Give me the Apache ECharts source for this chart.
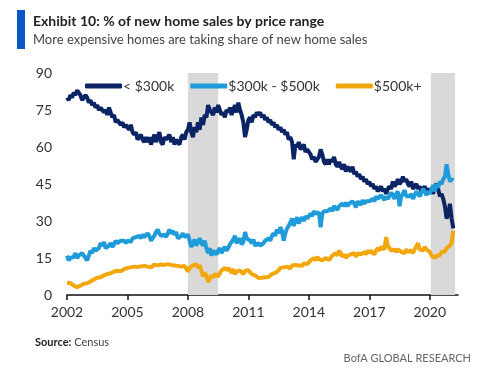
<!DOCTYPE html>
<html>
<head>
<meta charset="utf-8">
<script src="https://cdn.jsdelivr.net/npm/echarts@6/dist/echarts.min.js"></script>
<style>
  html, body { margin: 0; padding: 0; background: #fff; }
  #chart { width: 500px; height: 377px; }
</style>
</head>
<body>
<div id="chart"></div>
<script>
// Datos mensuales, enero 2002 a marzo 2021 (% de ventas de casas nuevas)
const startYear = 2002;
const seriesNames = ['< $300k', '$300k - $500k', '$500k+'];
const xTicks = [2002, 2005, 2008, 2011, 2014, 2017, 2020];
const yTicks = [0, 15, 30, 45, 60, 75, 90];
const recessions = [[2008, 2009.5], [2020.05, 2021.25]];

const under300k = [
  80, 79, 81, 80, 82, 81, 83, 82, 81, 79, 80, 81,          // 2002
  80, 78, 79, 77, 78, 76, 77, 75, 76, 76, 74, 75,          // 2003
  73, 76, 74, 72, 73, 70, 71, 70, 69, 70, 68, 69,          // 2004
  68, 67, 69, 66, 65, 66, 63, 64, 65, 63, 62, 64,          // 2005
  62, 64, 61, 63, 65, 62, 64, 66, 62, 61, 64, 63,          // 2006
  63, 65, 62, 64, 61, 63, 62, 61, 64, 65, 63, 66,          // 2007
  67, 70, 66, 64, 68, 66, 70, 67, 72, 69, 73, 72,          // 2008
  77, 75, 74, 73, 76, 74, 77, 75, 73, 74, 72, 75,          // 2009
  74, 76, 73, 75, 77, 74, 78, 75, 73, 70, 64, 67,          // 2010
  71, 72, 70, 73, 72, 74, 73, 74, 72, 73, 71, 72,          // 2011
  70, 71, 69, 70, 68, 69, 67, 68, 66, 67, 65, 66,          // 2012
  63, 64, 62, 55, 61, 60, 62, 59, 60, 61, 58, 59,          // 2013
  58, 57, 55, 56, 54, 55, 56, 59, 57, 54, 53, 55,          // 2014
  53, 55, 54, 56, 53, 52, 54, 52, 51, 53, 50, 52,          // 2015
  51, 50, 52, 49, 50, 48, 49, 47, 48, 46, 47, 45,          // 2016
  46, 44, 45, 43, 44, 42, 43, 44, 42, 43, 41, 43,          // 2017
  44, 43, 46, 44, 45, 47, 45, 46, 48, 46, 47, 45,          // 2018
  44, 46, 43, 44, 45, 43, 44, 42, 43, 44, 42, 43,          // 2019
  42, 43, 41, 44, 45, 43, 40, 41, 39, 36, 31, 33,          // 2020
  37, 31, 27                                               // 2021
];

const from300to500k = [
  16, 14, 15, 14.5, 15.5, 17, 15, 16, 15.5, 17, 16, 15,
  14, 16, 18, 17, 19, 18, 17.5, 19, 21, 20, 21.5, 19,
  19.5, 20, 21, 19.5, 20.5, 22, 21, 20.5, 22, 21.5, 22, 21,
  22, 22.5, 21.5, 23, 22.5, 23.5, 23, 24, 23, 24.5, 23.5, 24,
  25, 24, 22, 21.5, 24, 25.5, 26.5, 25, 24, 23.5, 24.5, 23.5,
  25, 26.5, 25, 26, 24.5, 25.5, 23, 22.5, 24, 25, 23.5, 24,
  24.5, 22, 19.5, 21, 22.5, 20, 21.5, 23, 21, 20, 22, 19,
  17, 19, 16, 18, 17.5, 16.5, 18, 19, 17, 18.5, 19.5, 18,
  19, 20.5, 21, 22.5, 24, 21, 22, 23, 20.5, 21.5, 25.5, 23,
  23, 22, 21, 22.5, 20, 19.5, 21, 20, 19.5, 21, 22, 21.5,
  23, 22, 24, 25, 24, 26.5, 25, 27.5, 26, 22, 25, 27,
  28, 29.5, 31, 28, 30, 31.5, 29, 30.5, 31.5, 30, 32, 31,
  31.5, 33, 32, 34, 33, 32.5, 33.5, 27.5, 33, 34, 33.5, 34,
  33.5, 35, 34, 36, 35.5, 34.5, 36, 35.5, 37, 36, 37.5, 36,
  37, 36.5, 38, 37, 35.5, 38, 37.5, 36.5, 38.5, 37, 38, 37.5,
  38, 37.5, 39, 38, 40, 39, 38.5, 40.5, 39.5, 38.5, 40, 39,
  40, 41.5, 40.5, 39, 41, 42, 36, 40, 41, 42.5, 40, 39.5,
  40, 41, 39, 40.5, 42, 41, 40, 41.5, 43, 42, 40.5, 42,
  41, 43, 44.5, 42, 45, 43.5, 46, 45, 47, 48, 53, 49,
  46, 47, 46.5
];

const over500k = [
  5, 4.5, 4.8, 4, 3.8, 3.5, 3.2, 3.4, 3.8, 4.3, 4.6, 4.8,
  4.8, 5.2, 5.5, 6, 6.3, 6.8, 7, 7.5, 7.2, 7.8, 8, 8.3,
  8.5, 8.2, 8.8, 9, 9.5, 9.2, 9.8, 10, 9.6, 10.3, 10.5, 10.8,
  11, 10.5, 11.2, 10.8, 11.5, 11, 11.3, 10.7, 11.6, 11.2, 11.8, 11.4,
  11.5, 12, 11.2, 11.8, 12.3, 11.6, 12, 11.4, 12.4, 11.8, 12.2, 11.7,
  12.5, 13, 12.2, 12.8, 12, 12.5, 11.8, 12.2, 11.5, 12.3, 11.8, 11.5,
  9.5, 11, 10.5, 12, 11.5, 12.5, 11, 12, 10, 7.5, 9, 8,
  5.3, 6.5, 8, 7, 8.5, 9, 7.5, 8.8, 10, 9.5, 11, 10,
  11, 10, 9, 10.5, 8.5, 9.5, 8.8, 10, 9.2, 8.5, 9.8, 10,
  10, 9.5, 8.5, 9, 8, 7.5, 6.9, 7.5, 7, 7.8, 7.2, 7.6,
  7.3, 8, 8.5, 7.8, 9, 9.5, 10, 11, 10.5, 11.2, 10.8, 11.5,
  11.5, 10.8, 12, 11.3, 12.2, 11.5, 12, 12.5, 11.8, 12.8, 13.5, 12.5,
  13, 14, 13.5, 15, 14, 15.5, 14.5, 15, 14, 14.5, 15, 14.2,
  14.2, 15, 16, 15.5, 17, 16, 18, 17, 15.5, 16.5, 15, 16,
  15.5, 16.5, 16, 17, 15.5, 16.8, 17.5, 16.5, 17.2, 17.4, 16.5, 18,
  17, 18, 17.5, 16.5, 18, 19, 18, 19.5, 20, 18.5, 23.5, 20,
  19, 18, 17.4, 18.5, 17.5, 18.5, 19, 17.5, 18, 17, 18.5, 17.5,
  17.4, 18, 17, 18.5, 19, 21, 18.5, 19, 18, 19.5, 18.5, 19,
  17.5, 16, 15.5, 15, 16, 16.5, 16, 17.5, 18, 17.5, 19, 18.5,
  20, 21, 26
];

const colores = ['#0a2464', '#1f9bda', '#f2a80c'];
const fuente = 'Lato, "Open Sans", sans-serif';

// fecha decimal para cada mes
const aPares = (valores) => valores.map((v, i) => [startYear + i / 12, v]);

const graficoVentas = echarts.init(document.getElementById('chart'), null, { renderer: 'canvas' });

const option = {
    animation: false,
    textStyle: { fontFamily: fuente },
    grid: { left: 67, right: 42, top: 73, bottom: 82 },
    legend: {
        left: 80,
        top: 74,
        icon: 'roundRect',
        itemWidth: 37,
        itemHeight: 5,
        itemGap: 16,
        textStyle: { fontSize: 14, color: '#333', fontFamily: fuente, padding: [0, 0, 0, -4] },
        data: seriesNames
    },
    xAxis: {
        type: 'value',
        min: 2002,
        max: 2021.4,
        interval: 3,
        splitLine: { show: false },
        axisLine: { lineStyle: { color: '#111', width: 1.5 } },
        axisTick: { show: true, length: 5, customValues: xTicks, lineStyle: { color: '#111', width: 1.5 } },
        axisLabel: { customValues: xTicks, fontSize: 14, color: '#333', margin: 10, formatter: (v) => String(v) }
    },
    yAxis: {
        type: 'value',
        min: 0,
        max: 90,
        interval: 15,
        splitLine: { show: false },
        axisLine: { show: false },
        axisTick: { show: false },
        axisLabel: { fontSize: 14, color: '#333', margin: 15 }
    },
    series: [
        {
            name: seriesNames[0],
            type: 'line',
            showSymbol: false,
            data: aPares(under300k),
            lineStyle: { width: 4, color: colores[0] },
            itemStyle: { color: colores[0] },
            z: 3,
            markArea: {
                silent: true,
                itemStyle: { color: '#d9d9d9' },
                data: recessions.map(r => [{ xAxis: r[0] }, { xAxis: r[1] }])
            }
        },
        {
            name: seriesNames[1],
            type: 'line',
            showSymbol: false,
            data: aPares(from300to500k),
            lineStyle: { width: 4, color: colores[1] },
            itemStyle: { color: colores[1] },
            z: 4
        },
        {
            name: seriesNames[2],
            type: 'line',
            showSymbol: false,
            data: aPares(over500k),
            lineStyle: { width: 4, color: colores[2] },
            itemStyle: { color: colores[2] },
            z: 5
        }
    ],
    graphic: [
        { type: 'rect', left: 17, top: 10, shape: { width: 8, height: 39 }, style: { fill: '#0b55c8' } },
        { type: 'text', left: 33, top: 14, style: { text: 'Exhibit 10: % of new home sales by price range', font: 'bold 14px ' + fuente, fill: '#222' } },
        { type: 'text', left: 33, top: 33, style: { text: 'More expensive homes are taking share of new home sales', font: '13px ' + fuente, fill: '#444' } },
        { type: 'text', left: 35, top: 337, style: { text: '{b|Source:} Census', rich: { b: { fontWeight: 'bold', fontSize: 11, fill: '#222', fontFamily: fuente } }, font: '11px ' + fuente, fill: '#444' } },
        { type: 'text', right: 29, top: 353, style: { text: 'BofA GLOBAL RESEARCH', font: '11px ' + fuente, fill: '#666' } }
    ]
};

graficoVentas.setOption(option);
</script>
</body>
</html>
